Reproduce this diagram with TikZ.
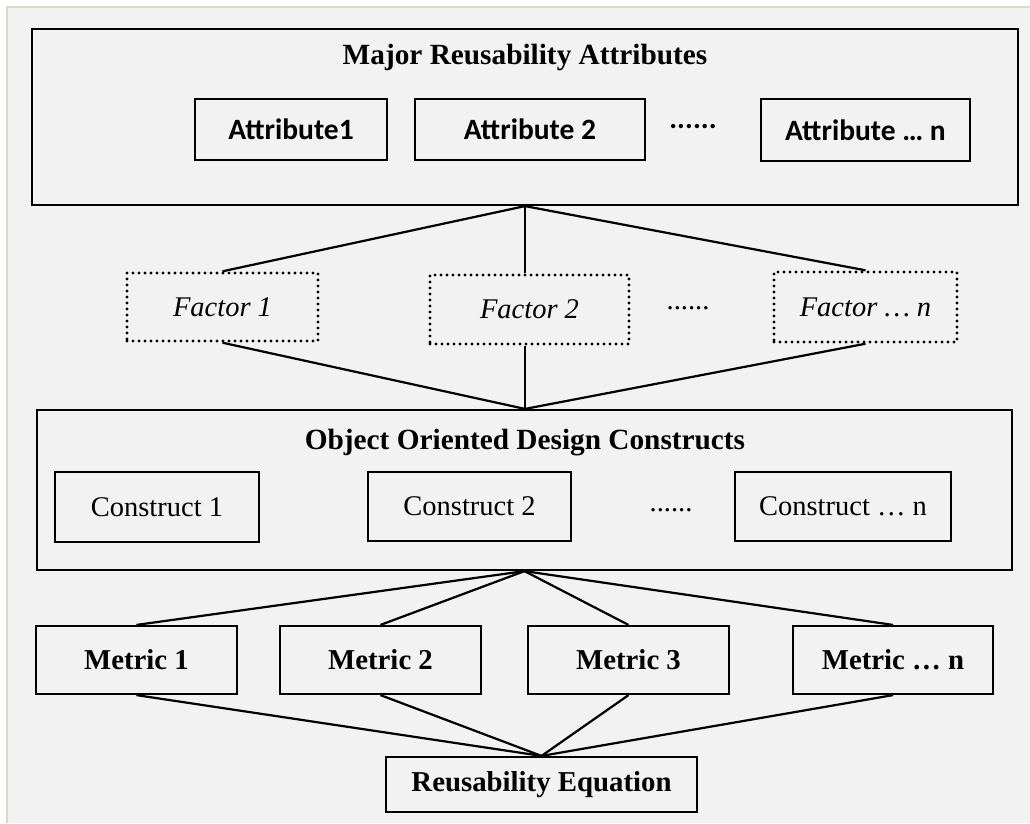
\documentclass[tikz,border=0pt]{standalone}
\usepackage{fontspec}
\setmainfont{Liberation Serif}
\newfontfamily\calib{Carlito}
\definecolor{bggray}{HTML}{F2F2F2}
\definecolor{framebeige}{HTML}{DDD9C4}
\begin{document}
\begin{tikzpicture}[x=1pt,y=-1pt,
  box/.style={draw=black,line width=2.2pt,fill=bggray,inner sep=0pt},
  dotbox/.style={draw=black,line width=3.4pt,dash pattern=on 0pt off 6pt,line cap=round,inner sep=0pt},
  conn/.style={draw=black,line width=2.2pt},
  bigtxt/.style={font=\fontsize{28.5}{32}\selectfont},
  attrtxt/.style={font=\calib\bfseries\fontsize{29.5}{32}\selectfont},
  ttl/.style={font=\bfseries\fontsize{29.3}{32}\selectfont},
  mtxt/.style={font=\bfseries\fontsize{28.8}{32}\selectfont},
  ftxt/.style={font=\itshape\fontsize{28.5}{32}\selectfont}]
\useasboundingbox (0,0) rectangle (1030,823);
% background
\fill[white] (0,0) rectangle (1030,823);
\fill[bggray] (6,6) rectangle (1030,823);
\draw[framebeige,line width=2pt] (7,823) -- (7,7) -- (1030,7);

% top container
\node[box,minimum width=986pt,minimum height=176pt] (top) at (525,117) {};
\node[ttl] (toptitle) at (525,57) {Major Reusability Attributes};
\node[box,attrtxt,minimum width=192pt,minimum height=61pt] (a1) at (291,129.5) {Attribute1};
\node[box,attrtxt,minimum width=230pt,minimum height=61pt] (a2) at (530,129.5) {Attribute 2};
\node[attrtxt,inner sep=0pt] (adots) at (693,127) {......};
\node[box,attrtxt,minimum width=209pt,minimum height=62pt] (an) at (865.5,130) {Attribute … n};

% factors
\node[dotbox,ftxt,minimum width=191pt,minimum height=68pt] (f1) at (222.5,307) {Factor 1};
\node[dotbox,ftxt,minimum width=199pt,minimum height=69pt] (f2) at (529.5,309.5) {Factor 2};
\node[bigtxt,inner sep=0pt] (fdots) at (688,308) {......};
\node[dotbox,ftxt,minimum width=183pt,minimum height=70pt] (fn) at (865.5,307) {Factor … n};

% middle container
\node[box,minimum width=975pt,minimum height=160pt] (mid) at (524.5,490) {};
\node[ttl] (midtitle) at (525,443) {Object Oriented Design Constructs};
\node[box,bigtxt,minimum width=204pt,minimum height=70pt] (c1) at (157,507) {Construct 1};
\node[box,bigtxt,minimum width=203pt,minimum height=69pt] (c2) at (469.5,506.5) {Construct 2};
\node[bigtxt,inner sep=0pt] (cdots) at (671,510) {......};
\node[box,bigtxt,minimum width=216pt,minimum height=69pt] (cn) at (843,506.5) {Construct … n};

% metrics
\node[box,mtxt,minimum width=201pt,minimum height=68pt] (m1) at (136.5,660) {Metric 1};
\node[box,mtxt,minimum width=201pt,minimum height=68pt] (m2) at (380.5,660) {Metric 2};
\node[box,mtxt,minimum width=201pt,minimum height=68pt] (m3) at (628.5,660) {Metric 3};
\node[box,mtxt,minimum width=200pt,minimum height=68pt] (mn) at (893,660) {Metric … n};
\node[box,mtxt,minimum width=311pt,minimum height=55pt] (re) at (541.5,784.5) {Reusability Equation};

% connectors
\coordinate (tb) at (top.south);
\coordinate (mt) at (mid.north -| top.south);
\coordinate (mb) at (mid.south);
\draw[conn] (tb) -- (f1.north);
\draw[conn] (tb) -- (tb |- f2.north);
\draw[conn] (tb) -- (fn.north);
\draw[conn] (f1.south) -- (mt);
\draw[conn] (tb |- f2.south) -- (mt);
\draw[conn] (fn.south) -- (mt);
\draw[conn] (mb) -- (m1.north);
\draw[conn] (mb) -- (m2.north);
\draw[conn] (mb) -- (m3.north);
\draw[conn] (mb) -- (mn.north);
\draw[conn] (m1.south) -- (re.north);
\draw[conn] (m2.south) -- (re.north);
\draw[conn] (m3.south) -- (re.north);
\draw[conn] (mn.south) -- (re.north);
\end{tikzpicture}
\end{document}
